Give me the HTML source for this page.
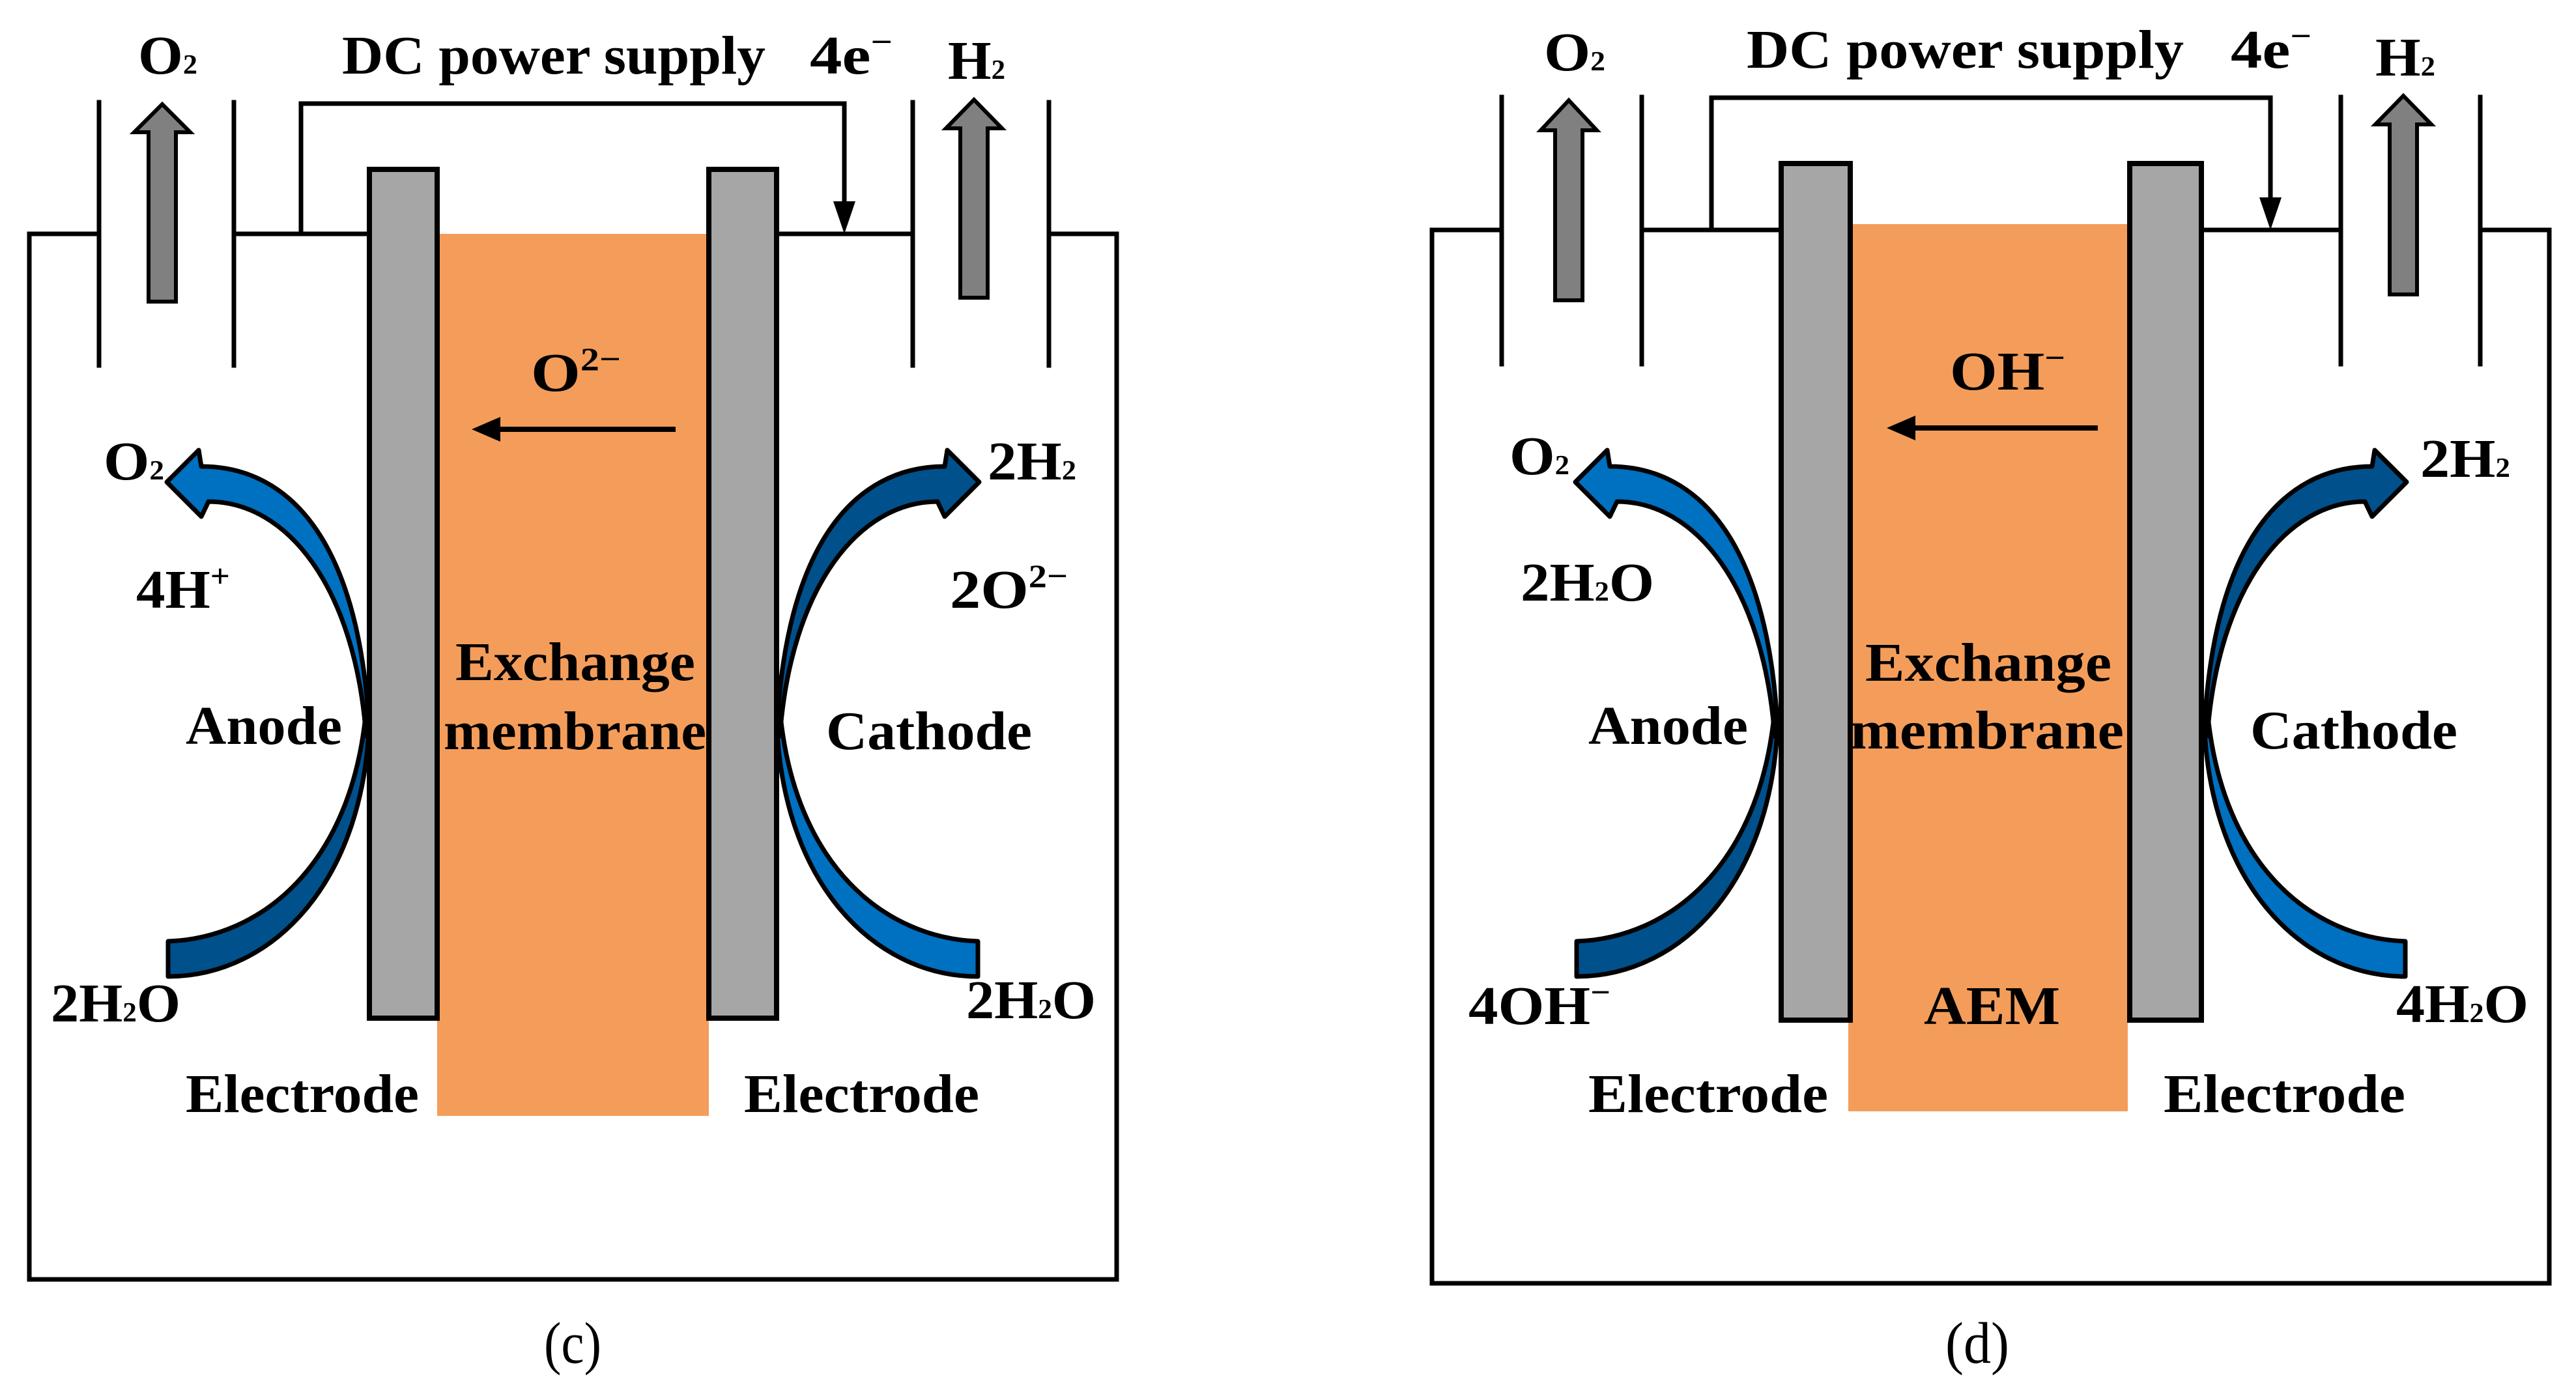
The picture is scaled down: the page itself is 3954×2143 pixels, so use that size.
<!DOCTYPE html>
<html><head><meta charset="utf-8"><style>html,body{margin:0;padding:0;background:#fff}svg{display:block}text{font-family:"Liberation Serif",serif;font-weight:bold;font-size:84px;fill:#000}</style></head>
<body>
<svg width="3954" height="2143" viewBox="0 0 3954 2143" xmlns="http://www.w3.org/2000/svg">
<defs>
<g id="blueL">
<path d="M258,1445 C400,1440 540,1330 562,1090 L567,1090 C565,1350 420,1499 258,1499 Z" fill="#00508c" stroke="#000" stroke-width="7" stroke-linejoin="round"/>
<path d="M309,716 C450,716 555,840 567,1130 L562,1130 C545,900 440,770 320,770 L309,793 L256,740 L305,691 Z" fill="#0070c0" stroke="#000" stroke-width="7" stroke-linejoin="round"/>
</g>
<g id="blueR">
<path d="M258,1445 C400,1440 540,1330 562,1090 L567,1090 C565,1350 420,1499 258,1499 Z" fill="#0070c0" stroke="#000" stroke-width="7" stroke-linejoin="round"/>
<path d="M309,716 C450,716 555,840 567,1130 L562,1130 C545,900 440,770 320,770 L309,793 L256,740 L305,691 Z" fill="#00508c" stroke="#000" stroke-width="7" stroke-linejoin="round"/>
</g>
</defs>

<g fill="none" stroke="#000" stroke-width="7" stroke-linecap="square">
<polyline points="152,359 45,359 45,1964 1714,1964 1714,359 1610,359"/>
<line x1="359" y1="359" x2="567" y2="359"/>
<line x1="1192" y1="359" x2="1401" y2="359"/>
<line x1="152" y1="157" x2="152" y2="561"/>
<line x1="359" y1="157" x2="359" y2="561"/>
<line x1="1401" y1="157" x2="1401" y2="561"/>
<line x1="1610" y1="157" x2="1610" y2="561"/>
<polyline points="462,359 462,159 1296,159 1296,320"/>
</g>
<path d="M1279,309 L1313,309 L1296,359 Z" fill="#000"/>
<path d="M228,463 L228,203 L206,203 L249,160 L292,203 L270,203 L270,463 Z" fill="#808080" stroke="#000" stroke-width="6"/>
<path d="M1474,457 L1474,197 L1452,197 L1495,153 L1538,197 L1516,197 L1516,457 Z" fill="#808080" stroke="#000" stroke-width="6"/>
<use href="#blueL"/>
<use href="#blueR" transform="translate(1759,0) scale(-1,1)"/>
<rect x="671" y="359" width="417" height="1354" fill="#f49d5a"/>
<rect x="567" y="260" width="104" height="1303" fill="#a6a6a6" stroke="#000" stroke-width="8"/>
<rect x="1088" y="260" width="104" height="1303" fill="#a6a6a6" stroke="#000" stroke-width="8"/>
<line x1="1037" y1="659" x2="760" y2="659" stroke="#000" stroke-width="8"/>
<path d="M724,659 L768,640 L768,678 Z" fill="#000"/>
<text x="212" y="113" textLength="91" lengthAdjust="spacingAndGlyphs">O<tspan font-size="42">2</tspan></text>
<text x="525" y="113" textLength="650" lengthAdjust="spacingAndGlyphs">DC power supply</text>
<text x="1243" y="113" textLength="127" lengthAdjust="spacingAndGlyphs">4e<tspan font-size="50" dy="-32">−</tspan></text>
<text x="1455" y="121" textLength="88" lengthAdjust="spacingAndGlyphs">H<tspan font-size="42">2</tspan></text>
<text x="815" y="600" textLength="138" lengthAdjust="spacingAndGlyphs">O<tspan font-size="50" dy="-32">2−</tspan></text>
<text x="159" y="736" textLength="93" lengthAdjust="spacingAndGlyphs">O<tspan font-size="42">2</tspan></text>
<text x="1516" y="736" textLength="136" lengthAdjust="spacingAndGlyphs">2H<tspan font-size="42">2</tspan></text>
<text x="209" y="933" textLength="144" lengthAdjust="spacingAndGlyphs">4H<tspan font-size="50" dy="-32">+</tspan></text>
<text x="1458" y="933" textLength="181" lengthAdjust="spacingAndGlyphs">2O<tspan font-size="50" dy="-32">2−</tspan></text>
<text x="699" y="1044" textLength="368" lengthAdjust="spacingAndGlyphs">Exchange</text>
<text x="681" y="1150" textLength="403" lengthAdjust="spacingAndGlyphs">membrane</text>
<text x="285" y="1142" textLength="240" lengthAdjust="spacingAndGlyphs">Anode</text>
<text x="1268" y="1150" textLength="316" lengthAdjust="spacingAndGlyphs">Cathode</text>
<text x="78" y="1568" textLength="199" lengthAdjust="spacingAndGlyphs">2H<tspan font-size="42">2</tspan>O</text>
<text x="1483" y="1563" textLength="199" lengthAdjust="spacingAndGlyphs">2H<tspan font-size="42">2</tspan>O</text>
<text x="285" y="1707" textLength="358" lengthAdjust="spacingAndGlyphs">Electrode</text>
<text x="1142" y="1707" textLength="361" lengthAdjust="spacingAndGlyphs">Electrode</text>
<text x="835" y="2092" textLength="88" lengthAdjust="spacingAndGlyphs" style="font-weight:normal;font-size:90px">(c)</text>

<g fill="none" stroke="#000" stroke-width="7" stroke-linecap="square">
<polyline points="2305,353 2198,353 2198,1970 3913,1970 3913,353 3807,353"/>
<line x1="2520" y1="353" x2="2734" y2="353"/>
<line x1="3379" y1="353" x2="3593" y2="353"/>
<line x1="2305" y1="149" x2="2305" y2="559"/>
<line x1="2520" y1="149" x2="2520" y2="559"/>
<line x1="3593" y1="149" x2="3593" y2="559"/>
<line x1="3807" y1="149" x2="3807" y2="559"/>
<polyline points="2627,353 2627,150 3485,150 3485,305"/>
</g>
<path d="M3468,303 L3502,303 L3485,353 Z" fill="#000"/>
<path d="M2387,461 L2387,200 L2365,200 L2408,154 L2451,200 L2429,200 L2429,461 Z" fill="#808080" stroke="#000" stroke-width="6"/>
<path d="M3668,452 L3668,191 L3646,191 L3689,147 L3732,191 L3710,191 L3710,452 Z" fill="#808080" stroke="#000" stroke-width="6"/>
<use href="#blueL" transform="translate(2162,0)"/>
<use href="#blueR" transform="translate(3950,0) scale(-1,1)"/>
<rect x="2837" y="344" width="429" height="1362" fill="#f49d5a"/>
<rect x="2734" y="251" width="106" height="1315" fill="#a6a6a6" stroke="#000" stroke-width="8"/>
<rect x="3269" y="251" width="110" height="1315" fill="#a6a6a6" stroke="#000" stroke-width="8"/>
<line x1="3220" y1="657" x2="2932" y2="657" stroke="#000" stroke-width="8"/>
<path d="M2896,657 L2940,638 L2940,676 Z" fill="#000"/>
<text x="2370" y="108" textLength="94" lengthAdjust="spacingAndGlyphs">O<tspan font-size="42">2</tspan></text>
<text x="2681" y="104" textLength="671" lengthAdjust="spacingAndGlyphs">DC power supply</text>
<text x="3424" y="104" textLength="124" lengthAdjust="spacingAndGlyphs">4e<tspan font-size="50" dy="-32">−</tspan></text>
<text x="3646" y="116" textLength="92" lengthAdjust="spacingAndGlyphs">H<tspan font-size="42">2</tspan></text>
<text x="2993" y="598" textLength="177" lengthAdjust="spacingAndGlyphs">OH<tspan font-size="50" dy="-32">−</tspan></text>
<text x="2317" y="728" textLength="92" lengthAdjust="spacingAndGlyphs">O<tspan font-size="42">2</tspan></text>
<text x="3715" y="732" textLength="138" lengthAdjust="spacingAndGlyphs">2H<tspan font-size="42">2</tspan></text>
<text x="2334" y="922" textLength="205" lengthAdjust="spacingAndGlyphs">2H<tspan font-size="42">2</tspan>O</text>
<text x="2863" y="1045" textLength="378" lengthAdjust="spacingAndGlyphs">Exchange</text>
<text x="2840" y="1149" textLength="420" lengthAdjust="spacingAndGlyphs">membrane</text>
<text x="2438" y="1142" textLength="245" lengthAdjust="spacingAndGlyphs">Anode</text>
<text x="3454" y="1149" textLength="318" lengthAdjust="spacingAndGlyphs">Cathode</text>
<text x="2254" y="1572" textLength="218" lengthAdjust="spacingAndGlyphs">4OH<tspan font-size="50" dy="-32">−</tspan></text>
<text x="3678" y="1569" textLength="203" lengthAdjust="spacingAndGlyphs">4H<tspan font-size="42">2</tspan>O</text>
<text x="2953" y="1572" textLength="209" lengthAdjust="spacingAndGlyphs">AEM</text>
<text x="2438" y="1707" textLength="368" lengthAdjust="spacingAndGlyphs">Electrode</text>
<text x="3321" y="1707" textLength="371" lengthAdjust="spacingAndGlyphs">Electrode</text>
<text x="2986" y="2092" textLength="98" lengthAdjust="spacingAndGlyphs" style="font-weight:normal;font-size:90px">(d)</text>
</svg>
</body></html>
